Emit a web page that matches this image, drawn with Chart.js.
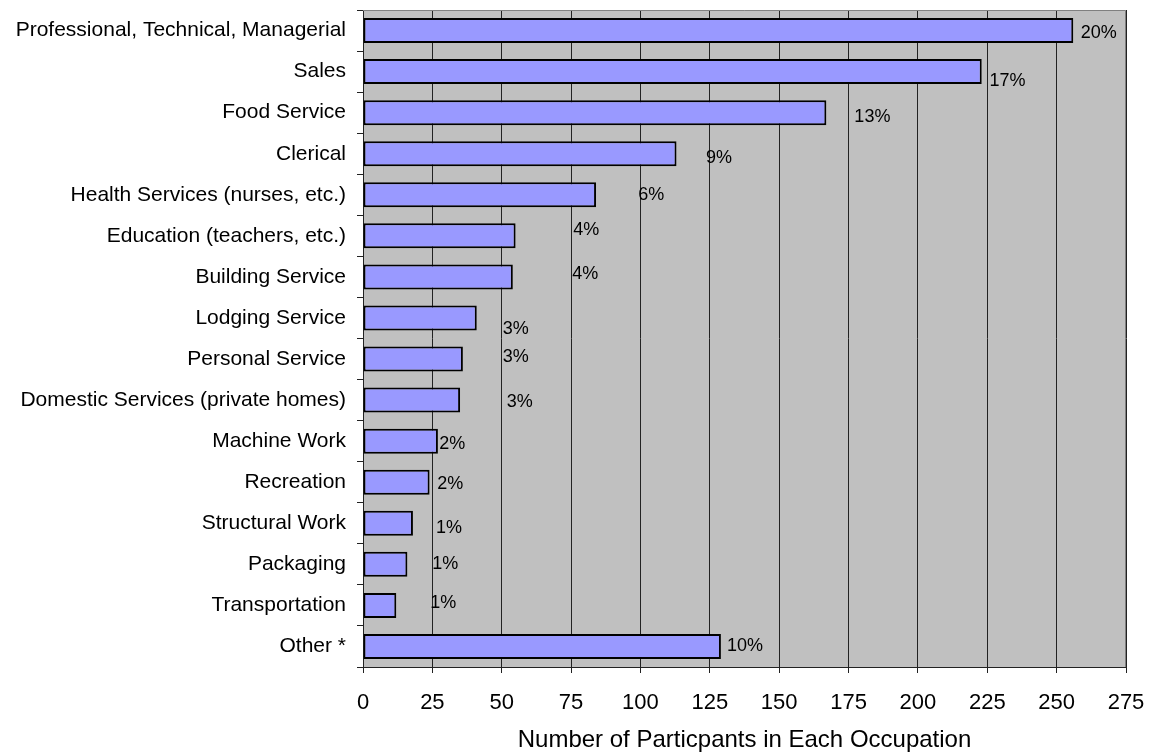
<!DOCTYPE html>
<html>
<head>
<meta charset="utf-8">
<script src="https://cdn.jsdelivr.net/npm/chart.js@4/dist/chart.umd.min.js"></script>
<style>
  html, body { margin: 0; padding: 0; background: #ffffff; }
  #wrap { width: 1149px; height: 752px; position: relative; }
</style>
</head>
<body>
<div id="wrap"><canvas id="c" width="1149" height="752"></canvas></div>
<script>
// ---- data ----
const categories = [
  'Professional, Technical, Managerial',
  'Sales',
  'Food Service',
  'Clerical',
  'Health Services (nurses, etc.)',
  'Education (teachers, etc.)',
  'Building Service',
  'Lodging Service',
  'Personal Service',
  'Domestic Services (private homes)',
  'Machine Work',
  'Recreation',
  'Structural Work',
  'Packaging',
  'Transportation',
  'Other *'
];
const participants = [256, 223, 167, 113, 84, 55, 54, 41, 36, 35, 27, 24, 18, 16, 12, 129];
const percentLabels = ['20%', '17%', '13%', '9%', '6%', '4%', '4%', '3%', '3%', '3%', '2%', '2%', '1%', '1%', '1%', '10%'];
// where each percent label sits, in axis units (value axis) and category offset
const labelAt = [258.7, 225.8, 177.1, 123.6, 99.2, 75.8, 75.4, 50.4, 50.4, 51.8, 27.5, 26.8, 26.3, 25.0, 24.2, 131.2];
const labelShift = [0.06, 0.24, 0.10, 0.10, 0, -0.15, -0.07, 0.27, -0.05, 0.05, 0.07, 0.05, 0.12, 0, -0.05, 0];
const xTicks = [0, 25, 50, 75, 100, 125, 150, 175, 200, 225, 250, 275];
const xTitle = 'Number of Particpants in Each Occupation';

const FONT = "'Liberation Sans', Arial, sans-serif";

const plotBg = {
  id: 'plotBg',
  beforeDraw(chart) {
    const { ctx, chartArea: a } = chart;
    ctx.save();
    ctx.fillStyle = '#C0C0C0';
    ctx.fillRect(a.left, a.top, a.right - a.left, a.bottom - a.top);
    ctx.restore();
  },
  afterDraw(chart) {
    const { ctx, chartArea: a } = chart;
    ctx.save();
    ctx.strokeStyle = '#808080';
    ctx.lineWidth = 1;
    ctx.beginPath();
    ctx.moveTo(a.left, a.top + 0.5);
    ctx.lineTo(a.right - 0.5, a.top + 0.5);
    ctx.lineTo(a.right - 0.5, a.bottom);
    ctx.stroke();
    ctx.restore();
  }
};

const pctLabels = {
  id: 'pctLabels',
  afterDatasetsDraw(chart) {
    const { ctx, scales } = chart;
    ctx.save();
    ctx.font = '18px ' + FONT;
    ctx.fillStyle = '#000';
    ctx.textAlign = 'left';
    ctx.textBaseline = 'middle';
    percentLabels.forEach((t, i) => {
      const x = scales.x.getPixelForValue(labelAt[i]);
      const y = scales.y.getPixelForValue(i + labelShift[i]);
      ctx.fillText(t, x, y);
    });
    ctx.restore();
  }
};

function zeroPad(scale) {
  scale.paddingLeft = 0; scale.paddingRight = 0;
  scale.paddingTop = 0; scale.paddingBottom = 0;
}

new Chart(document.getElementById('c'), {
  type: 'bar',
  data: {
    labels: categories,
    datasets: [{
      data: participants,
      backgroundColor: '#9999FF',
      borderColor: '#000000',
      borderWidth: 2,
      borderSkipped: false,
      barPercentage: 0.61,
      categoryPercentage: 1.0
    }]
  },
  options: {
    indexAxis: 'y',
    responsive: false,
    animation: false,
    devicePixelRatio: 1,
    layout: { padding: { top: 10, right: 23, bottom: 0, left: 0 } },
    plugins: {
      legend: { display: false },
      tooltip: { enabled: false }
    },
    scales: {
      x: {
        type: 'linear',
        min: 0,
        max: 275,
        afterBuildTicks(scale) { scale.ticks = xTicks.map(v => ({ value: v })); },
        afterFit(scale) { scale.height = 85; zeroPad(scale); },
        grid: {
          color: '#222222',
          lineWidth: 1,
          drawTicks: true,
          tickLength: 6,
          tickColor: '#222222'
        },
        border: { display: true, color: '#222222', width: 1 },
        ticks: {
          color: '#000',
          font: { family: FONT, size: 22 },
          padding: 17,
          maxRotation: 0,
          autoSkip: false
        },
        title: {
          display: true,
          text: xTitle,
          color: '#000',
          font: { family: FONT, size: 24, lineHeight: 1.0 },
          padding: { top: 0, bottom: 0 }
        }
      },
      y: {
        afterFit(scale) { scale.width = 363; zeroPad(scale); },
        grid: {
          drawOnChartArea: false,
          drawTicks: true,
          tickLength: 6,
          offset: true,
          tickColor: '#222222'
        },
        border: { display: true, color: '#222222', width: 1 },
        ticks: {
          color: '#000',
          font: { family: FONT, size: 21 },
          padding: 11,
          autoSkip: false
        }
      }
    }
  },
  plugins: [plotBg, pctLabels]
});
</script>
</body>
</html>
